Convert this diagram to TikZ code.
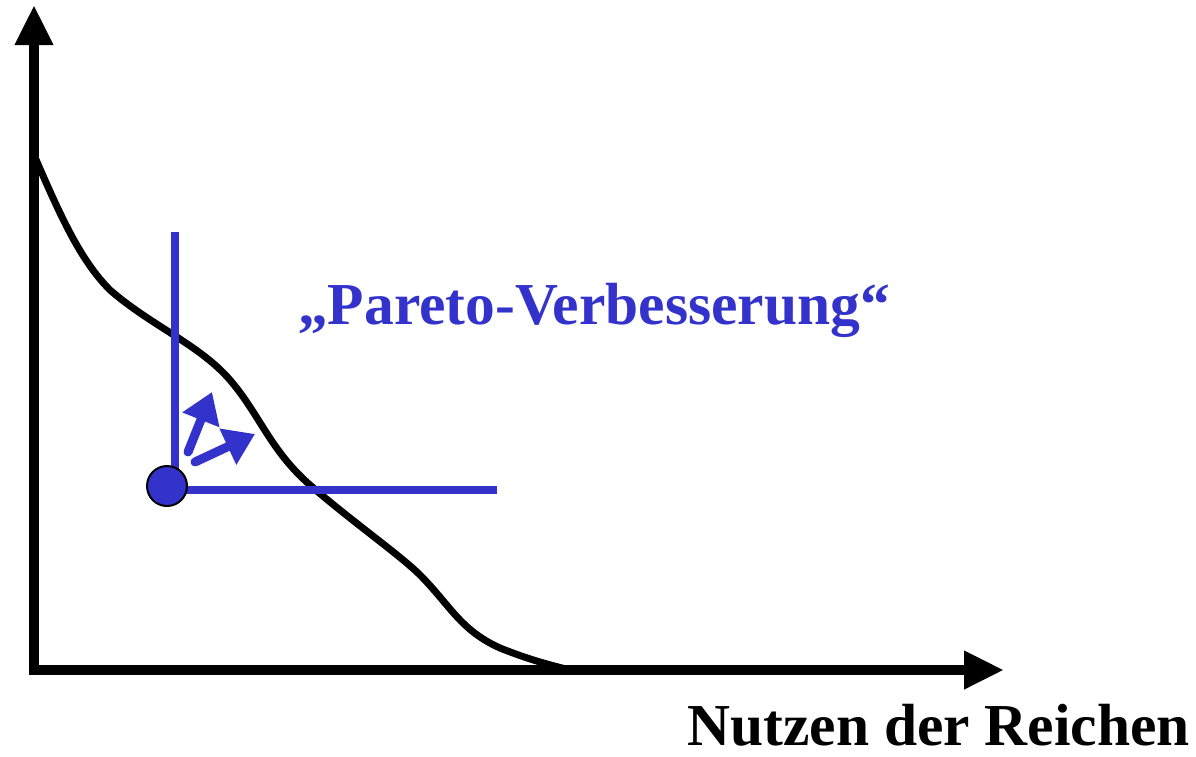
\documentclass[tikz,border=0pt]{standalone}
\usepackage{fontspec}
\setmainfont{Liberation Serif}
\usetikzlibrary{arrows.meta}
\definecolor{paretoblue}{RGB}{51,51,204}
\begin{document}
\begin{tikzpicture}[x=1pt,y=-1pt,>={Triangle[length=40pt,width=36pt]}]
  \tikzstyle{axis}=[line width=10pt, black]
  \tikzstyle{curve}=[line width=7pt, black]
  \tikzstyle{improve}=[line width=8pt, paretoblue]
  \tikzstyle{small}=[line width=9pt, paretoblue, line cap=round, -{Triangle[length=30pt,width=38pt]}]
  \tikzstyle{label}=[font=\fontsize{59.5}{68}\selectfont\bfseries]

  \useasboundingbox (0,0) rectangle (1196,756);

  \coordinate (ytip) at (34,5);
  \coordinate (xtip) at (1004,670);

  % axes
  \draw[axis,->] (34,675) -- (ytip);
  \draw[axis,->] (29,670) -- (xtip);

  % frontier
  \draw[curve] (34,155) .. controls (60,215) and (80,260) .. (110,290)
    .. controls (150,325) and (200,345) .. (230,380)
    .. controls (260,415) and (270,450) .. (310,485)
    .. controls (350,520) and (400,555) .. (420,575)
    .. controls (450,605) and (460,630) .. (500,648)
    .. controls (530,660) and (550,665) .. (570,670);

  % point and quadrant
  \coordinate (corner) at (175,490);
  \coordinate (vtop) at (175,232);
  \coordinate (hend) at (497,490);
  \draw[improve] (175,494) -- (vtop);
  \draw[improve] (171,490) -- (hend);
  \node[circle, draw=black, line width=2pt, fill=paretoblue, minimum size=40pt, inner sep=0pt] (point) at (167,486) {};

  \coordinate (upfrom) at (188,452);
  \coordinate (upto) at (212,392);
  \coordinate (rightfrom) at (195,462);
  \coordinate (rightto) at (255,434);
  \draw[small] (upfrom) -- (upto);
  \draw[small] (rightfrom) -- (rightto);

  \node[label, text=paretoblue] (pareto) at (594,310) {„Pareto-Verbesserung“};
  \node[label, anchor=base east, inner sep=0pt] (xlabel) at (1190,745) {Nutzen der Reichen};
\end{tikzpicture}
\end{document}
